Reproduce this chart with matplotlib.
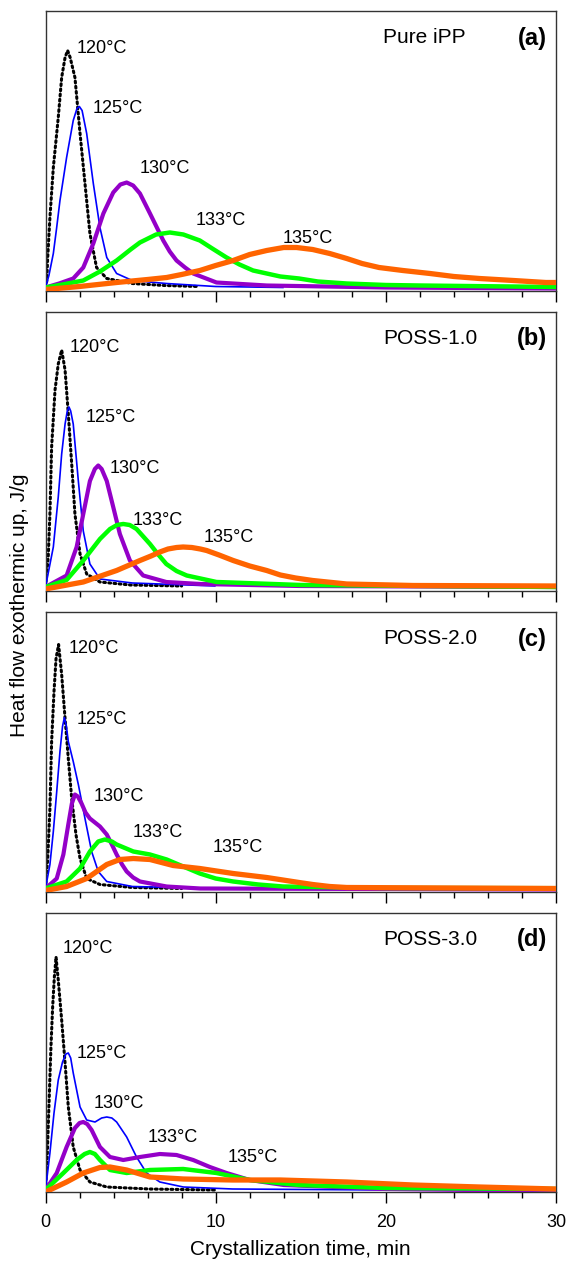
import matplotlib
matplotlib.use("Agg")
import matplotlib.pyplot as plt
from matplotlib.ticker import MultipleLocator

plt.rcParams['font.family'] = ['Liberation Sans', 'DejaVu Sans']

# crystallization temperatures and sample names
temps = ["120°C", "125°C", "130°C", "133°C", "135°C"]
samples = ["Pure iPP", "POSS-1.0", "POSS-2.0", "POSS-3.0"]
letters = ["(a)", "(b)", "(c)", "(d)"]

# ---- (a) Pure iPP ----
a_120_t = [0, 0.08, 0.12, 0.26, 0.46, 0.75, 0.95, 1.15, 1.30, 1.45, 1.73, 2.03, 2.32, 2.61, 3.0, 3.6, 5.1, 7, 9]
a_120_v = [0.03, 0.10, 0.30, 0.73, 1.23, 1.73, 2.13, 2.33, 2.40, 2.33, 2.13, 1.57, 1.07, 0.57, 0.23, 0.12, 0.07, 0.05, 0.04]
a_125_t = [0, 0.2, 0.46, 0.65, 0.85, 1.05, 1.24, 1.45, 1.63, 1.85, 1.99, 2.15, 2.42, 2.81, 3.2, 3.6, 4.18, 5.1, 7.1, 10, 14]
a_125_v = [0.03, 0.15, 0.37, 0.62, 0.90, 1.12, 1.33, 1.53, 1.70, 1.82, 1.84, 1.80, 1.57, 1.07, 0.63, 0.33, 0.17, 0.10, 0.07, 0.04, 0.03]
a_130_t = [0, 0.8, 1.63, 2.22, 2.81, 3.4, 3.98, 4.4, 4.77, 5.15, 5.55, 6.14, 6.92, 7.3, 7.7, 8.2, 8.68, 10.05, 13, 20, 30]
a_130_v = [0.03, 0.07, 0.12, 0.23, 0.47, 0.77, 0.98, 1.06, 1.08, 1.05, 0.97, 0.77, 0.50, 0.39, 0.30, 0.23, 0.17, 0.08, 0.05, 0.03, 0.02]
a_133_t = [0, 1, 2.22, 3.2, 4.18, 5.0, 5.55, 6.5, 7.31, 8.1, 9.07, 9.8, 10.64, 11.4, 12.2, 13.0, 13.8, 14.9, 16, 17.7, 20, 22, 30]
a_133_v = [0.03, 0.06, 0.10, 0.19, 0.30, 0.41, 0.48, 0.56, 0.58, 0.56, 0.50, 0.42, 0.33, 0.26, 0.20, 0.17, 0.14, 0.12, 0.09, 0.07, 0.055, 0.05, 0.035]
a_135_t = [0, 2, 4.18, 6, 7.12, 8, 9.07, 10, 11.03, 12, 13, 14, 14.75, 15.7, 16.7, 17.7, 18.6, 19.6, 21, 22.6, 24, 25.5, 27.5, 29.4, 30]
a_135_v = [0.01, 0.04, 0.08, 0.11, 0.13, 0.16, 0.20, 0.25, 0.30, 0.36, 0.40, 0.43, 0.43, 0.41, 0.37, 0.32, 0.27, 0.23, 0.20, 0.17, 0.14, 0.12, 0.10, 0.08, 0.08]

# ---- (b) POSS-1.0 ----
b_120_t = [0, 0.16, 0.26, 0.36, 0.56, 0.75, 0.95, 1.15, 1.34, 1.54, 1.73, 2.03, 2.42, 3.2, 5, 8]
b_120_v = [0.04, 0.34, 0.77, 1.44, 2.01, 2.27, 2.41, 2.21, 1.77, 1.27, 0.77, 0.37, 0.17, 0.09, 0.06, 0.05]
b_125_t = [0, 0.46, 0.75, 0.95, 1.15, 1.28, 1.38, 1.48, 1.63, 1.93, 2.22, 2.61, 3.2, 5.1, 10]
b_125_v = [0.04, 0.44, 0.94, 1.37, 1.67, 1.80, 1.84, 1.80, 1.67, 1.10, 0.60, 0.27, 0.12, 0.08, 0.05]
b_130_t = [0, 1.24, 1.83, 2.22, 2.61, 2.9, 3.1, 3.3, 3.6, 3.98, 4.37, 4.96, 5.74, 7.1, 9.1, 15, 30]
b_130_v = [0.04, 0.155, 0.44, 0.77, 1.10, 1.22, 1.255, 1.22, 1.10, 0.84, 0.57, 0.305, 0.155, 0.09, 0.07, 0.05, 0.04]
b_133_t = [0, 1.24, 2.22, 3.2, 3.79, 4.2, 4.57, 4.95, 5.35, 6.14, 6.6, 7.1, 7.7, 8.3, 10.05, 15, 30]
b_133_v = [0.04, 0.11, 0.305, 0.52, 0.62, 0.66, 0.67, 0.66, 0.62, 0.47, 0.37, 0.27, 0.20, 0.155, 0.09, 0.06, 0.04]
b_135_t = [0, 2.22, 4.18, 5.55, 6.2, 6.72, 7.2, 7.7, 8.09, 8.6, 9.1, 9.47, 10.2, 11.03, 12, 13, 13.8, 14.7, 15.7, 17.7, 21.6, 30]
b_135_v = [0.02, 0.09, 0.205, 0.305, 0.35, 0.39, 0.42, 0.435, 0.44, 0.435, 0.42, 0.405, 0.36, 0.305, 0.25, 0.205, 0.16, 0.13, 0.105, 0.07, 0.055, 0.05]

# ---- (c) POSS-2.0 ----
c_120_t = [0, 0.13, 0.26, 0.36, 0.5, 0.62, 0.77, 0.95, 1.15, 1.34, 1.54, 1.79, 2.03, 2.42, 3.2, 5.1, 8]
c_120_v = [0.03, 0.33, 0.83, 1.50, 2.0, 2.33, 2.47, 2.17, 1.73, 1.33, 0.93, 0.57, 0.33, 0.13, 0.07, 0.04, 0.03]
c_125_t = [0, 0.26, 0.46, 0.66, 0.85, 1.0, 1.11, 1.22, 1.34, 1.63, 1.93, 2.32, 2.71, 3.1, 3.6, 5.1, 10]
c_125_v = [0.03, 0.27, 0.60, 1.0, 1.40, 1.65, 1.74, 1.66, 1.50, 1.30, 1.07, 0.73, 0.40, 0.20, 0.10, 0.05, 0.03]
c_130_t = [0, 0.66, 1.05, 1.34, 1.55, 1.73, 1.9, 2.12, 2.35, 2.61, 3.2, 3.6, 3.9, 4.18, 4.5, 4.77, 5.15, 5.55, 7.12, 9.1, 30]
c_130_v = [0.03, 0.13, 0.37, 0.67, 0.88, 0.97, 0.95, 0.88, 0.79, 0.73, 0.65, 0.57, 0.47, 0.37, 0.27, 0.20, 0.14, 0.10, 0.05, 0.03, 0.02]
c_133_t = [0, 1.24, 2.03, 2.61, 3.1, 3.49, 3.9, 4.18, 5.16, 6.14, 7.12, 8.09, 9.07, 10, 11.03, 12.5, 13.96, 20, 30]
c_133_v = [0.03, 0.10, 0.23, 0.40, 0.50, 0.52, 0.50, 0.47, 0.40, 0.37, 0.32, 0.25, 0.18, 0.13, 0.10, 0.07, 0.05, 0.035, 0.033]
c_135_t = [0, 1.24, 2.42, 3.6, 4.37, 5.16, 6.14, 7.5, 9.07, 11.03, 13, 14.9, 15.7, 16.7, 17.7, 30]
c_135_v = [0.01, 0.05, 0.13, 0.27, 0.32, 0.33, 0.32, 0.26, 0.23, 0.18, 0.14, 0.09, 0.07, 0.05, 0.04, 0.03]

# ---- (d) POSS-3.0 ----
d_120_t = [0, 0.1, 0.22, 0.32, 0.42, 0.52, 0.62, 0.75, 0.95, 1.15, 1.34, 1.63, 2.03, 2.61, 3.6, 6.1, 10]
d_120_v = [0.02, 0.35, 0.95, 1.45, 1.85, 2.15, 2.35, 2.12, 1.72, 1.29, 0.85, 0.45, 0.22, 0.10, 0.05, 0.03, 0.02]
d_125_t = [0, 0.26, 0.5, 0.75, 1.0, 1.2, 1.34, 1.48, 1.63, 2.03, 2.42, 2.91, 3.3, 3.6, 3.9, 4.18, 4.77, 5.35, 5.94, 6.72, 8.1, 11, 20]
d_125_v = [0.02, 0.39, 0.79, 1.12, 1.30, 1.38, 1.39, 1.34, 1.19, 0.85, 0.72, 0.70, 0.74, 0.75, 0.74, 0.70, 0.55, 0.35, 0.19, 0.10, 0.05, 0.03, 0.02]
d_130_t = [0, 0.66, 1.24, 1.73, 2.0, 2.22, 2.45, 2.71, 3.2, 3.79, 4.57, 5.55, 6.72, 7.7, 8.68, 9.66, 10.64, 12, 14, 20, 30]
d_130_v = [0.02, 0.19, 0.45, 0.64, 0.69, 0.70, 0.68, 0.62, 0.45, 0.35, 0.32, 0.35, 0.38, 0.37, 0.32, 0.25, 0.19, 0.12, 0.07, 0.03, 0.01]
d_133_t = [0, 1.05, 1.83, 2.3, 2.61, 2.9, 3.2, 3.79, 4.77, 6.14, 8.09, 10.05, 12, 14.9, 20, 30]
d_133_v = [0.02, 0.19, 0.32, 0.38, 0.40, 0.38, 0.32, 0.22, 0.19, 0.22, 0.23, 0.19, 0.12, 0.07, 0.04, 0.03]
d_135_t = [0, 1.24, 2.22, 3.2, 3.79, 4.77, 6.14, 8.1, 11, 13.8, 17.7, 21.6, 25.5, 30]
d_135_v = [0.0, 0.10, 0.19, 0.245, 0.25, 0.22, 0.15, 0.13, 0.12, 0.12, 0.10, 0.07, 0.05, 0.03]

panels = [
    [(a_120_t, a_120_v), (a_125_t, a_125_v), (a_130_t, a_130_v), (a_133_t, a_133_v), (a_135_t, a_135_v)],
    [(b_120_t, b_120_v), (b_125_t, b_125_v), (b_130_t, b_130_v), (b_133_t, b_133_v), (b_135_t, b_135_v)],
    [(c_120_t, c_120_v), (c_125_t, c_125_v), (c_130_t, c_130_v), (c_133_t, c_133_v), (c_135_t, c_135_v)],
    [(d_120_t, d_120_v), (d_125_t, d_125_v), (d_130_t, d_130_v), (d_133_t, d_133_v), (d_135_t, d_135_v)],
]

# where the temperature labels sit (data coords, per panel)
label_pos = [
    [(1.85, 2.42), (2.79, 1.82), (5.55, 1.22), (8.84, 0.70), (13.95, 0.52)],
    [(1.44, 2.44), (2.38, 1.74), (3.79, 1.225), (5.14, 0.705), (9.31, 0.535)],
    [(1.38, 2.43), (1.85, 1.72), (2.85, 0.95), (5.14, 0.59), (9.84, 0.44)],
    [(1.03, 2.43), (1.85, 1.39), (2.85, 0.88), (6.02, 0.54), (10.72, 0.34)],
]

colors = ["black", "#0000ff", "#9400c8", "#00ff00", "#ff6400"]
widths = [2.2, 1.2, 3.0, 3.2, 3.8]
styles = [(0, (0.6, 1.1)), "-", "-", "-", "-"]

fig = plt.figure(figsize=(5.66, 12.63), dpi=100)
W, H = 566.0, 1263.0
left, right = 45.5, 556.0
tops = [11, 311.5, 612, 912.5]
ph = 279.5

axes = []
for i in range(4):
    ax = fig.add_axes([left / W, 1 - (tops[i] + ph) / H, (right - left) / W, ph / H])
    axes.append(ax)
    for j, (t, v) in enumerate(panels[i]):
        ax.plot(t, v, color=colors[j], lw=widths[j], ls=styles[j],
                solid_capstyle="butt", solid_joinstyle="round",
                dash_capstyle="round", zorder=2 + j)
        ax.text(label_pos[i][j][0], label_pos[i][j][1], temps[j], fontsize=13,
                ha="left", va="center")
    ax.text(0.661, 0.905, samples[i], transform=ax.transAxes, fontsize=15,
            ha="left", va="center")
    ax.text(0.982, 0.903, letters[i], transform=ax.transAxes, fontsize=17,
            fontweight="bold", ha="right", va="center")
    ax.set_xlim(0, 30)
    ax.set_ylim(0, 2.795)
    ax.set_yticks([])
    ax.xaxis.set_major_locator(MultipleLocator(10))
    ax.xaxis.set_minor_locator(MultipleLocator(2))
    ax.tick_params(axis="x", which="major", direction="out", length=8, width=1, labelsize=13, pad=7.5)
    ax.tick_params(axis="x", which="minor", direction="out", length=4.5, width=1)
    for s in ax.spines.values():
        s.set_color("#333333")
        s.set_linewidth(1.0)
    if i < 3:
        ax.tick_params(axis="x", labelbottom=False)

axes[3].set_xlabel("Crystallization time, min", fontsize=15, labelpad=7)
fig.text(20 / W, 1 - 605 / H, "Heat flow exothermic up, J/g", rotation=90,
         fontsize=15, ha="center", va="center")

fig.savefig("out.png", dpi=100)
